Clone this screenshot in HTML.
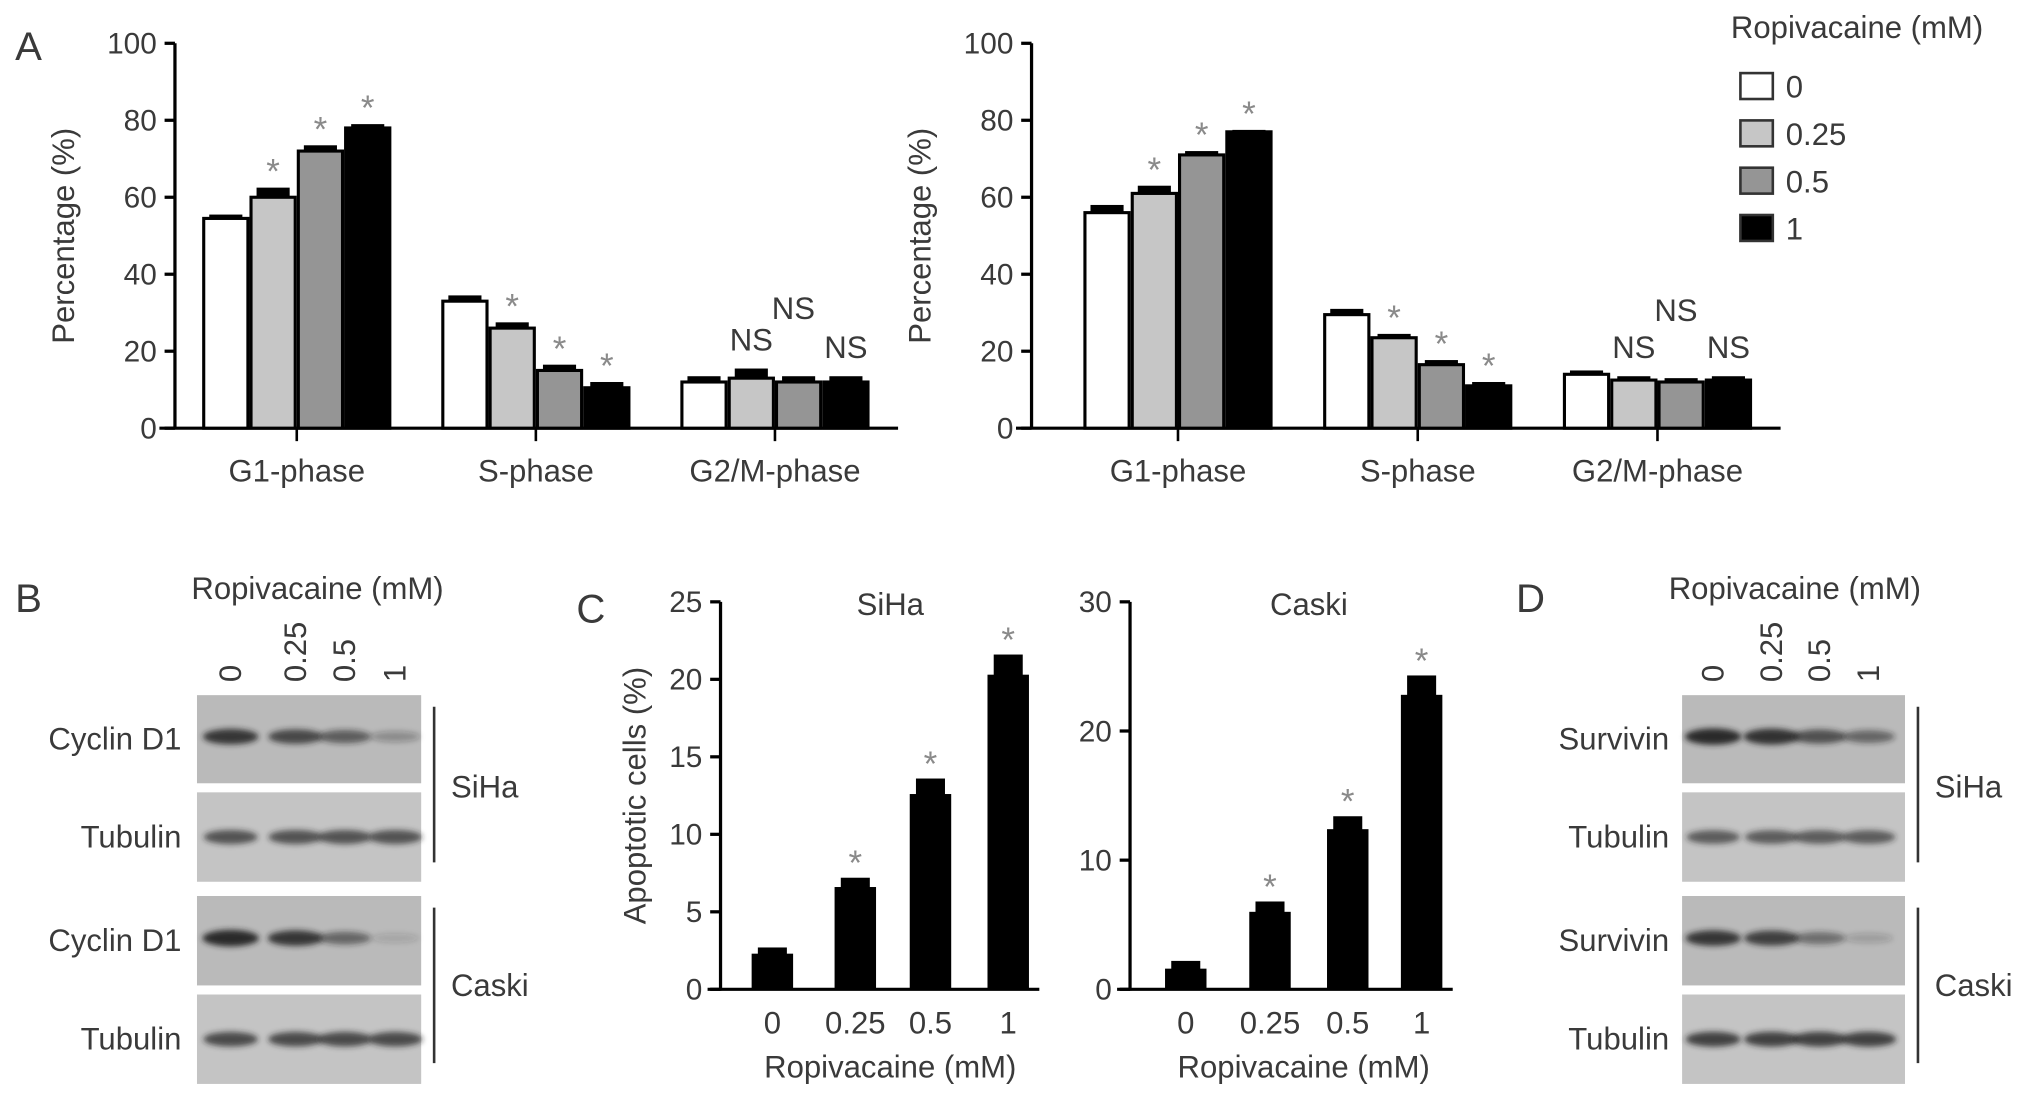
<!DOCTYPE html>
<html><head><meta charset="utf-8">
<style>
html,body{margin:0;padding:0;background:#fff;}
svg{display:block;}
text{font-family:"Liberation Sans",sans-serif;fill:#3a3a3a;}
text.star{fill:#8a8a8a;}
</style></head>
<body>
<svg id="fig" width="2032" height="1100" viewBox="0 0 1568 848" xmlns="http://www.w3.org/2000/svg">
<defs><filter id="blur" x="-50%" y="-200%" width="200%" height="500%"><feGaussianBlur stdDeviation="2.2"/></filter></defs>
</svg>
<script>
// ---- Panel A data ----
const phases = ["G1-phase","S-phase","G2/M-phase"];
const doses = ["0","0.25","0.5","1"];
const aLeftVals = [[54.5,60,72,78],[33,26,15,10.5],[12,13,12,12]];
const aLeftErr  = [[1,2.5,1.5,1],[1.5,1.5,1.5,1.5],[1.5,2.5,1.5,1.5]];
const aRightVals = [[56,61,71,77],[29.5,23.5,16.5,11],[14,12.5,12,12.5]];
const aRightErr  = [[2,2,1,0.5],[1.5,1,1.2,1],[1,1,1,1]];
const aLeftMarks = [["","*","*","*"],["","*","*","*"],["","NS","NS2","NS"]];
const aRightMarks = [["","*","*","*"],["","*","*","*"],["","NS","NS2","NS"]];
const aTicks = [0,20,40,60,80,100];
const fills = ["#ffffff","#c6c6c6","#959595","#000000"];
// ---- Panel C data ----
const cDoses = ["0","0.25","0.5","1"];
const sihaVals = [2.3,6.6,12.6,20.3];
const sihaErr = [0.4,0.6,1.0,1.3];
const sihaTicks = [0,5,10,15,20,25];
const caskiVals = [1.6,6.0,12.4,22.8];
const caskiErr = [0.6,0.8,1.0,1.5];
const caskiTicks = [0,10,20,30];
// ---- Blot band intensities (0..1) ----
const bCyclinSiha = [0.85,0.75,0.6,0.3];
const bTubSiha = [0.7,0.7,0.7,0.7];
const bCyclinCaski = [0.95,0.85,0.55,0.15];
const bTubCaski = [0.75,0.75,0.75,0.75];
const dSurvSiha = [0.95,0.9,0.7,0.55];
const dTubSiha = [0.65,0.65,0.65,0.65];
const dSurvCaski = [0.85,0.8,0.5,0.2];
const dTubCaski = [0.8,0.8,0.8,0.8];

const svg = document.getElementById('fig');
const NS = "http://www.w3.org/2000/svg";
function mk(tag, attrs, parent){const e=document.createElementNS(NS,tag);for(const k in attrs)e.setAttribute(k,attrs[k]);(parent||svg).appendChild(e);return e;}
function txt(x,y,s,size,anchor,parent,extra){const t=mk('text',Object.assign({x:x,y:y,'font-size':size,'text-anchor':anchor||'middle'},extra||{}),parent);t.textContent=s;return t;}

function groupBarChart(name, axisX, y0, y100, xEnd, firstTick, spacing, vals, errs, marks){
  const g=mk('g',{});
  
  
  const ys=v=>y0-(v/100)*(y0-y100);
  const ax=mk('line',{x1:axisX,y1:y100,x2:axisX,y2:y0+1,stroke:'#000','stroke-width':2.5},g);
  
  
  const xa=mk('line',{x1:axisX-12,y1:y0,x2:xEnd,y2:y0,stroke:'#000','stroke-width':2.5},g);
  
  
  aTicks.forEach(t=>{
    mk('line',{x1:axisX-8,y1:ys(t),x2:axisX,y2:ys(t),stroke:'#000','stroke-width':2.5},g);
    const l=txt(axisX-14,ys(t)+8,String(t),23,'end',g);
    
    
  });
  const yt=txt(0,0,'Percentage (%)',24,'middle',g,{transform:`translate(${axisX-78},${(y0+y100)/2}) rotate(-90)`});
  
  
  const bw=36.5;
  phases.forEach((p,gi)=>{
    const cx=firstTick+gi*spacing;
    mk('line',{x1:cx,y1:y0,x2:cx,y2:y0+10,stroke:'#000','stroke-width':2},g);
    const cl=txt(cx,y0+41,p,24,'middle',g);
    
    
    vals[gi].forEach((v,bi)=>{
      const x=cx-2*bw+bi*bw;
      const top=ys(v), etop=ys(v+errs[gi][bi]);
      const e=mk('rect',{x:x+bw*0.15,y:etop,width:bw*0.7,height:top-etop+2,fill:'#000'},g);
      
      
      const r=mk('rect',{x:x+1.2,y:top,width:bw-2.4,height:y0-top,fill:fills[bi],stroke:'#000','stroke-width':2.4},g);
      
      
      const m=marks[gi][bi];
      if(m==='*'){const s=txt(x+bw/2,etop-3,'*',27,'middle',g,{'class':'star'});}
      else if(m==='NS'){const s=txt(x+bw/2,etop-14,'NS',24,'middle',g);}
      else if(m==='NS2'){const s=txt(x+bw/2-4,etop-44,'NS',24,'middle',g);}
    });
  });
}
const lblA=txt(22,46,'A',31,'middle');


groupBarChart('chart-a-left',135,330,33,693,229,184.5,aLeftVals,aLeftErr,aLeftMarks);
groupBarChart('chart-a-right',796,330,33,1374,909,185,aRightVals,aRightErr,aRightMarks);

// legend
const lg=mk('g',{});


txt(1433,29,'Ropivacaine (mM)',24,'middle',lg);
doses.forEach((d,i)=>{
  const y=66+i*36.5;
  const r=mk('rect',{x:1343,y:y-10,width:25,height:20,fill:fills[i],stroke:'#333','stroke-width':2},lg);
  
  
  const t=txt(1378,y+9,d,24,'start',lg);
  
  
});

// Panel C charts
function simpleBar(name, axisX, y0, ytop, maxV, ticks, vals, errs, centers, title, titleX, showYTitle){
  const g=mk('g',{});
  
  
  const ys=v=>y0-(v/maxV)*(y0-ytop);
  const ax=mk('line',{x1:axisX,y1:ytop,x2:axisX,y2:y0+1,stroke:'#000','stroke-width':2.5},g);
  
  
  const xa=mk('line',{x1:axisX-10,y1:y0,x2:centers[3]+24,y2:y0,stroke:'#000','stroke-width':2.5},g);
  
  
  ticks.forEach(t=>{
    mk('line',{x1:axisX-8,y1:ys(t),x2:axisX,y2:ys(t),stroke:'#000','stroke-width':2.5},g);
    const l=txt(axisX-14,ys(t)+8,String(t),23,'end',g);
    
    
  });
  const tt=txt(titleX,474,title,24,'middle',g);
  
  
  if(showYTitle){const yt=txt(0,0,'Apoptotic cells (%)',24,'middle',g,{transform:`translate(498,${(y0+ytop)/2}) rotate(-90)`});}
  const bw=32;
  vals.forEach((v,i)=>{
    const cx=centers[i];
    const top=ys(v), etop=ys(v+errs[i]);
    const e=mk('rect',{x:cx-bw*0.35,y:etop,width:bw*0.7,height:top-etop+2,fill:'#000'},g);
    
    
    const r=mk('rect',{x:cx-bw/2,y:top,width:bw,height:y0-top,fill:'#000'},g);
    
    
    if(i>0){const s=txt(cx,etop-2,'*',27,'middle',g,{'class':'star'});}
    const xl=txt(cx,797,cDoses[i],24,'middle',g);
    
    
  });
  const xt=txt((centers[0]+centers[3])/2,831,'Ropivacaine (mM)',24,'middle',g);
  
  
}
const lblC=txt(456,480,'C',31,'middle');


simpleBar('chart-c-siha',556,763,464,25,sihaTicks,sihaVals,sihaErr,[596,660,718,778],'SiHa',687,true);
simpleBar('chart-c-caski',872,763,464,30,caskiTicks,caskiVals,caskiErr,[915,980,1040,1097],'Caski',1010,false);

// Blots
function blotPanel(name, letter, letterX, left, right, labelX, lanes, titleX, rows){
  const g=mk('g',{});
  
  
  const L=txt(letterX,472,letter,31,'middle',g);
  
  
  const t=txt(titleX,462,'Ropivacaine (mM)',24,'middle',g);
  
  
  doses.forEach((d,i)=>{
    const l=txt(0,0,d,24,'start',g,{transform:`translate(${lanes[i]+8},${526}) rotate(-90)`});
    
    
  });
  const rowY=[[536,604],[611,680],[691,760],[767,836]];
  rows.forEach((r,ri)=>{
    const [y1,y2]=rowY[ri];
    const bg=mk('rect',{x:left,y:y1,width:right-left,height:y2-y1,fill:ri%2? '#c4c4c4':'#bababa'},g);
    
    
    const by=ri%2? (y1+y2)/2 : (y1+y2)/2-2;
    r.vals.forEach((v,i)=>{
      const b=mk('ellipse',{cx:lanes[i],cy:by,rx:18+v*4,ry:3+v*3.5,fill:'#222','fill-opacity':v,filter:'url(#blur)'},g);
      
      
    });
    const lab=txt(labelX,(y1+y2)/2+8,r.label,24,'end',g);
    
    
  });
  const lx=right+10;
  mk('line',{x1:lx,y1:545,x2:lx,y2:665,stroke:'#333','stroke-width':2},g);
  mk('line',{x1:lx,y1:700,x2:lx,y2:820,stroke:'#333','stroke-width':2},g);
  const s1=txt(lx+13,615,'SiHa',24,'start',g);
  
  
  const s2=txt(lx+13,768,'Caski',24,'start',g);
  
  
}
blotPanel('western-blot-b','B',22,152,325,140,[178,228,266,305],245,[
  {label:'Cyclin D1',vals:bCyclinSiha},{label:'Tubulin',vals:bTubSiha},
  {label:'Cyclin D1',vals:bCyclinCaski},{label:'Tubulin',vals:bTubCaski}]);
blotPanel('western-blot-d','D',1181,1298,1470,1288,[1322,1367,1404,1442],1385,[
  {label:'Survivin',vals:dSurvSiha},{label:'Tubulin',vals:dTubSiha},
  {label:'Survivin',vals:dSurvCaski},{label:'Tubulin',vals:dTubCaski}]);
</script>
</body></html>
